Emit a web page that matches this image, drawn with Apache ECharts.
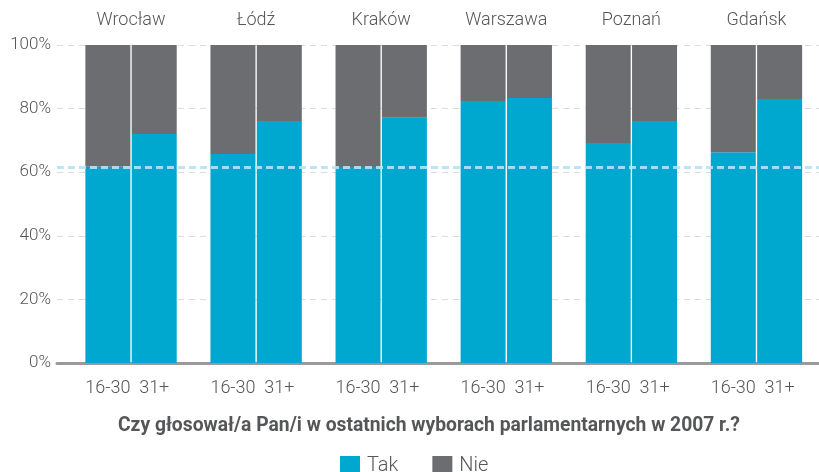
<!DOCTYPE html>
<html>
<head>
<meta charset="utf-8">
<script src="https://cdn.jsdelivr.net/npm/echarts@6/dist/echarts.min.js"></script>
<style>html,body{margin:0;padding:0;background:#fff;}#c{width:819px;height:472px;}</style>
</head>
<body>
<div id="c"></div>
<script>
const cities = ['Wrocław', 'Łódź', 'Kraków', 'Warszawa', 'Poznań', 'Gdańsk'];
const ageGroups = ['16-30', '31+'];
const takYoung = [61.7, 65.7, 61.6, 82.4, 69.2, 66.3];
const takOld = [72.0, 76.1, 77.1, 83.3, 76.1, 83.0];
const nieYoung = [38.3, 34.3, 38.4, 17.6, 30.8, 33.7];
const nieOld = [28.0, 23.9, 22.9, 16.7, 23.9, 17.0];
const avgLine = 61.7;
const yTicks = [0, 20, 40, 60, 80, 100];
const title = 'Czy głosował/a Pan/i w ostatnich wyborach parlamentarnych w 2007 r.?';

const TAK = '#00a8cf';
const NIE = '#6c6d71';
const TXT = '#555658';
const FONT = 'Roboto';

const chart = echarts.init(document.getElementById('c'));

function barSeries(name, data, stack, color, age) {
  const s = {
    name: name, type: 'bar', stack: stack, data: data,
    xAxisIndex: 1, yAxisIndex: 1,
    barWidth: 45, barGap: '3%',
    itemStyle: { color: color },
    emphasis: { disabled: true },
    animation: false
  };
  if (age) {
    s.label = {
      show: true, position: 'bottom', distance: 16,
      formatter: age, color: TXT, fontFamily: FONT, fontWeight: 300, fontSize: 18
    };
  }
  return s;
}

chart.setOption({
  animation: false,
  textStyle: { fontFamily: FONT },
  title: {
    text: title, left: 113, top: 412,
    textStyle: { fontFamily: FONT, fontWeight: 'bold', fontSize: 19.3, color: TXT }
  },
  legend: {
    data: ['Tak', 'Nie'], left: 335, top: 451,
    icon: 'rect', itemWidth: 20, itemHeight: 20, itemGap: 34,
    selectedMode: false,
    textStyle: { fontFamily: FONT, fontWeight: 300, fontSize: 20, color: TXT, padding: [0, 0, 0, 2] }
  },
  grid: [
    { left: 57, right: 0, top: 45, bottom: 109 },
    { left: 68.5, right: -3, top: 45, bottom: 109 }
  ],
  xAxis: [
    { type: 'value', gridIndex: 0, min: 0, max: 1, axisLine: { show: true, onZero: true, lineStyle: { color: '#9a9a9c', width: 3 } },
      axisTick: { show: false }, axisLabel: { show: false }, splitLine: { show: false } },
    { type: 'category', gridIndex: 1, data: cities, position: 'bottom', axisLine: { show: false },
      axisTick: { show: false }, axisLabel: { show: false } },
    { type: 'category', gridIndex: 1, data: cities, position: 'top', axisLine: { show: false },
      axisTick: { show: false },
      axisLabel: { show: true, margin: 16, color: TXT, fontFamily: FONT, fontWeight: 300, fontSize: 18 } }
  ],
  yAxis: [
    { type: 'value', gridIndex: 0, min: 0, max: 100, interval: 20,
      axisLine: { show: false }, axisTick: { show: false },
      axisLabel: { margin: 6, color: TXT, fontFamily: FONT, fontWeight: 300, fontSize: 17,
        formatter: function (v) { return yTicks.indexOf(v) >= 0 ? v + '%' : ''; } },
      splitLine: { show: true, lineStyle: { color: '#dcdcdc', type: [6, 5], width: 1.2 } } },
    { type: 'value', gridIndex: 1, min: 0, max: 100, interval: 20, show: false, splitLine: { show: false } }
  ],
  series: [
    {
      type: 'line', xAxisIndex: 0, yAxisIndex: 0, data: [[0, 0]], symbol: 'none', silent: true,
      lineStyle: { opacity: 0 }, z: 10,
      markLine: {
        silent: true, symbol: 'none', label: { show: false },
        lineStyle: { color: '#b5e3f3', type: [7, 4], width: 3, opacity: 0.9 },
        data: [{ yAxis: avgLine }]
      }
    },
    barSeries('Tak', takYoung, 'a', TAK, ageGroups[0]),
    barSeries('Nie', nieYoung, 'a', NIE),
    barSeries('Tak', takOld, 'b', TAK, ageGroups[1]),
    barSeries('Nie', nieOld, 'b', NIE)
  ]
});
</script>
</body>
</html>
